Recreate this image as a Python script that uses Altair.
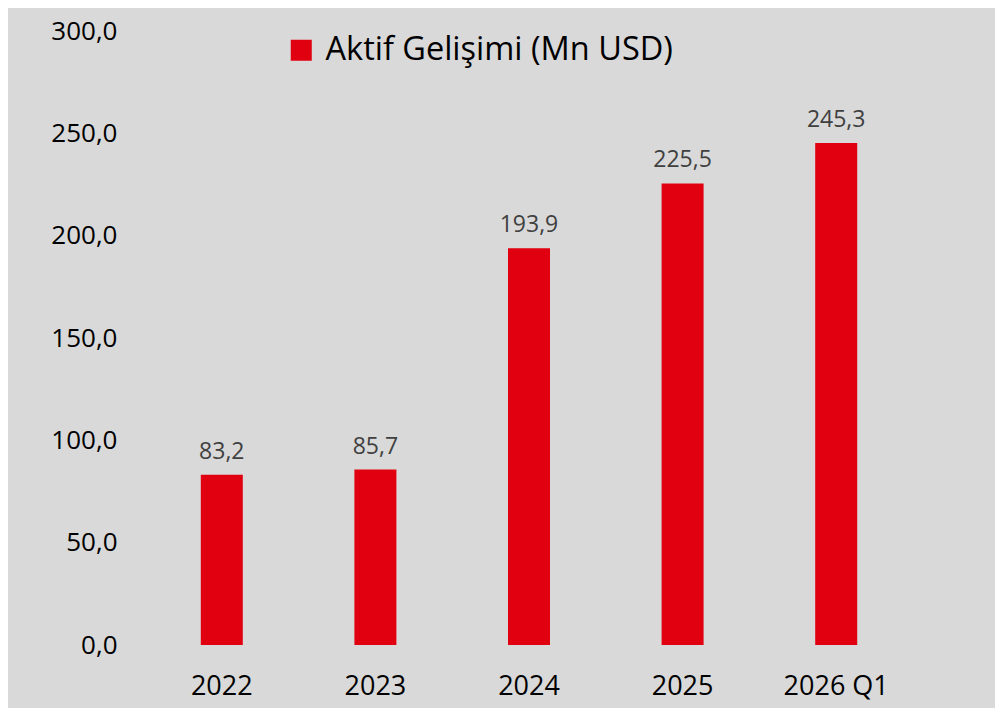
import altair as alt
import pandas as pd

categories = ["2022", "2023", "2024", "2025", "2026 Q1"]
values = [83.2, 85.7, 193.9, 225.5, 245.3]
series_name = "Aktif Gelişimi (Mn USD)"
y_ticks = [0, 50, 100, 150, 200, 250, 300]

df = pd.DataFrame({
    "cat": categories,
    "val": values,
    "series": [series_name] * len(categories),
    "label": [f"{v:.1f}".replace(".", ",") for v in values],
})

FONT = "Open Sans"
RED = "#e1000f"

x = alt.X("cat:N", sort=categories, title=None,
          scale=alt.Scale(paddingInner=0.73, paddingOuter=0.365),
          axis=alt.Axis(labelAngle=0, labelFontSize=27, labelColor="#000000",
                        labelFont=FONT, labelPadding=28, ticks=False, domain=False,
                        grid=False))
y = alt.Y("val:Q", title=None,
          scale=alt.Scale(domain=[0, 300], nice=False),
          axis=alt.Axis(values=y_ticks, labelFontSize=26, labelColor="#000000",
                        labelFont=FONT, labelPadding=28, ticks=False, domain=False,
                        grid=False,
                        labelExpr="replace(format(datum.value, '.1f'), '.', ',')"))

bars = alt.Chart(df).mark_bar(size=42).encode(
    x=x, y=y,
    color=alt.Color("series:N",
                    scale=alt.Scale(domain=[series_name], range=[RED]),
                    legend=alt.Legend(title=None, orient="none", legendX=140, legendY=3,
                                      symbolType="square", symbolSize=441,
                                      symbolStrokeWidth=0, labelFontSize=32.5,
                                      labelFont=FONT, labelColor="#000000",
                                      labelOffset=8, padding=0, labelLimit=700)),
)

labels = alt.Chart(df).mark_text(baseline="bottom", dy=-11, fontSize=23,
                                 font=FONT, color="#404040").encode(
    x=alt.X("cat:N", sort=categories), y="val:Q", text="label:N")

chart = (bars + labels).properties(
    width=768, height=614,
    background="#d9d9d9",
    padding={"left": 137, "top": 23, "right": 82, "bottom": 63},
    autosize=alt.AutoSizeParams(type="none"),
).configure_view(stroke=None)

chart.save("out.html", embed_options={"renderer": "svg", "actions": False})
